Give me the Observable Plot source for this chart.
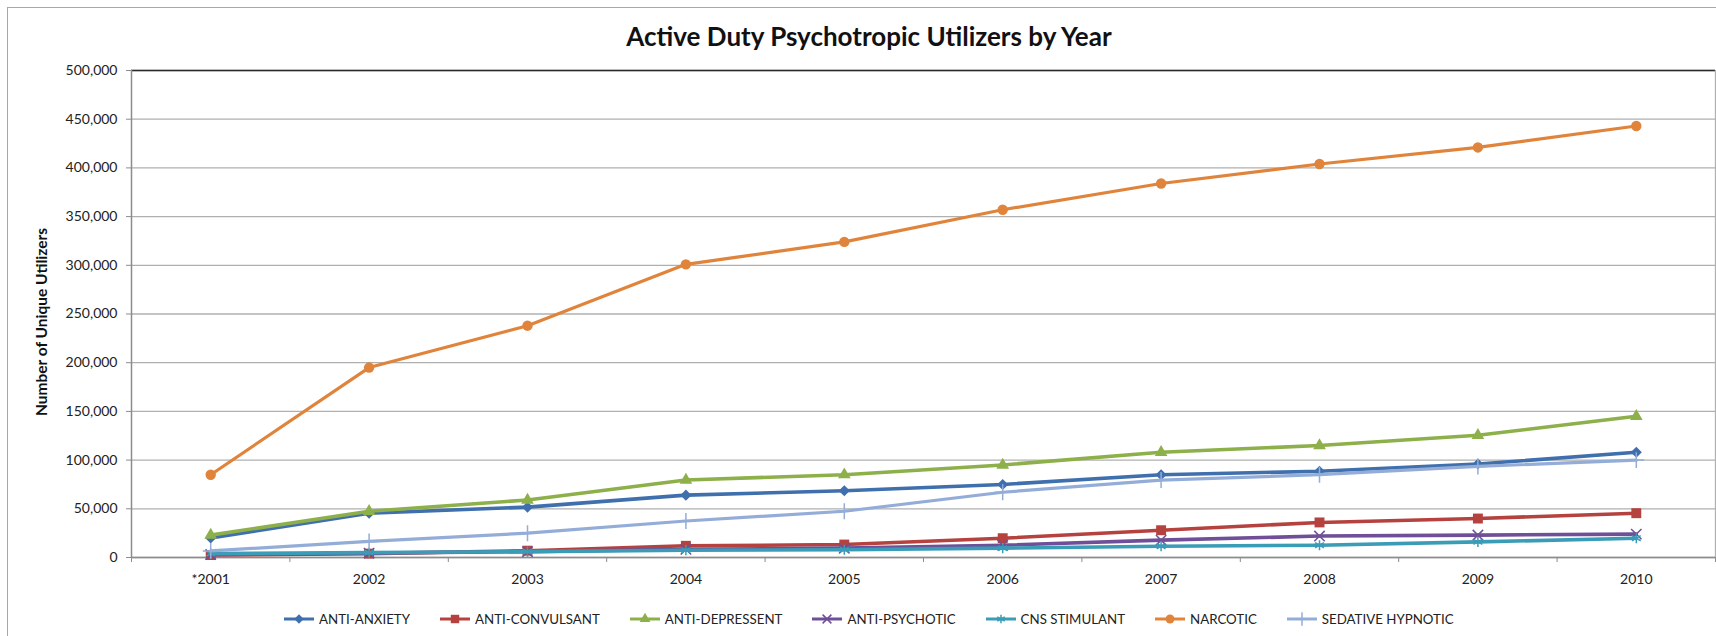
<!DOCTYPE html>
<html>
<head>
<meta charset="utf-8">
<script src="https://cdn.jsdelivr.net/npm/d3@7"></script>
<script src="https://cdn.jsdelivr.net/npm/@observablehq/plot@0.6"></script>
<style>
  body { margin: 0; background: #fff; font-family: Lato, "Open Sans", sans-serif; }
  #wrap { position: relative; width: 1716px; height: 636px; overflow: hidden; background: #fff; }
  #border { position: absolute; left: 7px; top: 7px; width: 1760px; height: 700px;
            border-left: 1.5px solid #a8a8a8; border-top: 1.5px solid #a8a8a8; }
  #title { position: absolute; left: 0; width: 1738px; top: 20px; text-align: center;
           font-weight: 700; font-size: 26px; color: #111; white-space: nowrap; }
  #ylabel { position: absolute; left: 41px; top: 322px; transform: translate(-50%, -50%) rotate(-90deg);
            font-weight: 700; font-size: 15.5px; color: #111; white-space: nowrap; }
  #chart { position: absolute; left: 0; top: 60px; }
  #legend { position: absolute; left: 284px; top: 611px; display: flex; gap: 30px;
            font-size: 13.3px; color: #222; white-space: nowrap; }
  .item { display: flex; align-items: center; }
  .item svg { margin-right: 5px; }
</style>
</head>
<body>
<div id="wrap">
  <div id="border"></div>
  <div id="title">Active Duty Psychotropic Utilizers by Year</div>
  <div id="ylabel">Number of Unique Utilizers</div>
  <div id="chart"></div>
  <div id="legend"></div>
</div>
<script>
// ---- data ----
const years = ["*2001", "2002", "2003", "2004", "2005", "2006", "2007", "2008", "2009", "2010"];
const seriesNames = ["ANTI-ANXIETY", "ANTI-CONVULSANT", "ANTI-DEPRESSENT", "ANTI-PSYCHOTIC", "CNS STIMULANT", "NARCOTIC", "SEDATIVE HYPNOTIC"];
const antiAnxiety      = [20000, 45500, 51700, 64000, 68500, 75000, 85000, 88500, 96000, 108000];
const antiConvulsant   = [2500, 4000, 7000, 12000, 13300, 19800, 28000, 36000, 40000, 45500];
const antiDepressent   = [23000, 47500, 59000, 79500, 85000, 95000, 108000, 115000, 125500, 145000];
const antiPsychotic    = [3000, 4500, 6000, 8500, 9600, 12600, 17800, 22000, 23000, 24000];
const cnsStimulant     = [4000, 5000, 6000, 7500, 8000, 9600, 11600, 12600, 16000, 19800];
const narcotic         = [85000, 195000, 238000, 301000, 324000, 357000, 384000, 404000, 421000, 443000];
const sedativeHypnotic = [6800, 16500, 25000, 37500, 47500, 67000, 79500, 85000, 93500, 100000];
const yTickValues = [0, 50000, 100000, 150000, 200000, 250000, 300000, 350000, 400000, 450000, 500000];

// ---- styles ----
const seriesValues = [antiAnxiety, antiConvulsant, antiDepressent, antiPsychotic, cnsStimulant, narcotic, sedativeHypnotic];
const colors = ["#3f6fad", "#b5423e", "#8db04a", "#6f4f98", "#3a9cb6", "#e0843c", "#93add8"];
const symbols = ["diamond2", "square", "triangle", "times", "asterisk", "circle", "plus"];
const d3symbols = [d3.symbolDiamond2, d3.symbolSquare, d3.symbolTriangle, d3.symbolTimes, d3.symbolAsterisk, d3.symbolCircle, d3.symbolPlus];
const symbolR = [5, 5.6, 4.7, 4.8, 4.8, 5.2, 5.2];
const filled = [true, true, true, false, false, true, false];
const lineW = [3.6, 3.6, 3.6, 3.6, 3.6, 3.2, 3.2];

const rows = seriesNames.flatMap((s, si) =>
  seriesValues[si].map((v, i) => ({series: s, idx: i, year: years[i], value: v})));

const marks = [
  Plot.gridY(yTickValues, {stroke: "#b0b0b0", strokeOpacity: 1, strokeWidth: 1.3}),
  Plot.ruleY([500000], {stroke: "#2a2a2a", strokeWidth: 1.5}),
  Plot.ruleX([years.length - 0.5], {stroke: "#b0b0b0", strokeWidth: 1.3}),
  Plot.ruleY([0], {stroke: "#8c8c8c", strokeWidth: 1.5}),
  Plot.ruleX([-0.5], {stroke: "#8c8c8c", strokeWidth: 1.5}),
  Plot.axisY(yTickValues, {tickFormat: d3.format(","), tickSize: 5, tickPadding: 9, stroke: "#8c8c8c", fill: "#222", label: null}),
  Plot.axisX(d3.range(years.length), {tickFormat: i => years[i], tickSize: 0, tickPadding: 17, fill: "#222", label: null}),
  Plot.axisX(d3.range(years.length + 1).map(i => i - 0.5), {tickFormat: () => "", tickSize: 5, stroke: "#8c8c8c", label: null})
];

seriesNames.forEach((s, si) => {
  const data = rows.filter(d => d.series === s);
  marks.push(Plot.line(data, {x: "idx", y: "value", stroke: colors[si], strokeWidth: lineW[si], strokeLinejoin: "round"}));
  marks.push(Plot.dot(data, {
    x: "idx", y: "value", symbol: symbols[si], r: symbolR[si],
    fill: filled[si] ? colors[si] : "none",
    stroke: filled[si] ? "none" : colors[si],
    strokeWidth: 1.5
  }));
});

const chart = Plot.plot({
  width: 1716,
  height: 540,
  marginLeft: 131,
  marginRight: 1,
  marginTop: 10,
  marginBottom: 43,
  x: {type: "linear", domain: [-0.5, years.length - 0.5]},
  y: {type: "linear", domain: [0, 500000]},
  style: {fontFamily: "Lato, 'Open Sans', sans-serif", fontSize: "14px", color: "#222", background: "transparent", overflow: "visible"},
  marks
});
document.getElementById("chart").appendChild(chart);

// ---- legend ----
const legend = d3.select("#legend");
seriesNames.forEach((s, si) => {
  const item = legend.append("div").attr("class", "item");
  const svg = item.append("svg").attr("width", 30).attr("height", 14);
  svg.append("line").attr("x1", 0).attr("x2", 30).attr("y1", 7).attr("y2", 7)
    .attr("stroke", colors[si]).attr("stroke-width", 3);
  const r = symbolR[si] * 0.85;
  svg.append("path").attr("transform", "translate(15,7)")
    .attr("d", d3.symbol(d3symbols[si], Math.PI * r * r)())
    .attr("fill", filled[si] ? colors[si] : "none")
    .attr("stroke", filled[si] ? "none" : colors[si])
    .attr("stroke-width", 1.5);
  item.append("span").text(s);
});
</script>
</body>
</html>
